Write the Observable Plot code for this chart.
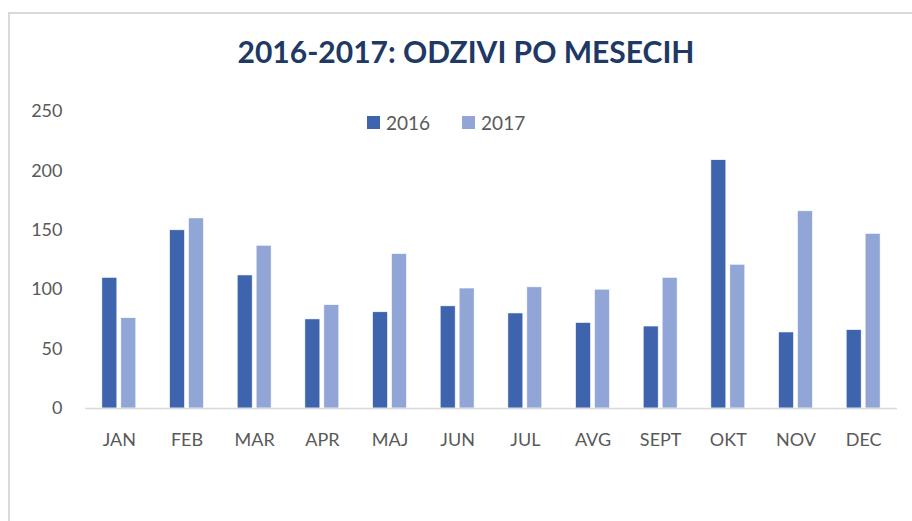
<!DOCTYPE html>
<html>
<head>
<meta charset="utf-8">
<script src="https://cdn.jsdelivr.net/npm/d3@7"></script>
<script src="https://cdn.jsdelivr.net/npm/@observablehq/plot@0.6"></script>
<style>
  html, body { margin: 0; padding: 0; background: #fff; }
  body { width: 912px; height: 521px; position: relative; overflow: hidden; font-family: Lato, "Open Sans", sans-serif; }
  #frame { position: absolute; left: 8px; top: 12px; right: -4px; bottom: -4px; border-left: 2px solid #d9d9d9; border-top: 2px solid #d9d9d9; z-index: 2; pointer-events: none; }
  #title { position: absolute; left: 20px; width: 892px; top: 36px; line-height: 30px; text-align: center; font-size: 30px; font-weight: 700; color: #203864; white-space: nowrap; }
  #chart { position: absolute; left: 0; top: 90px; }
  #legend { position: absolute; left: 367px; top: 110px; height: 24px; display: flex; align-items: center; font-size: 19px; color: #595959; z-index: 3; }
  .sw { display: inline-flex; align-items: center; margin-right: 32px; }
  .sw i { display: inline-block; width: 13px; height: 13px; margin-right: 6px; }
</style>
</head>
<body>
<div id="frame"></div>
<div id="title">2016-2017: ODZIVI PO MESECIH</div>
<div id="chart"></div>
<div id="legend"></div>
<script>
const months = ["JAN","FEB","MAR","APR","MAJ","JUN","JUL","AVG","SEPT","OKT","NOV","DEC"];
const years = ["2016","2017"];
const values2016 = [110,150,112,75,81,86,80,72,69,209,64,66];
const values2017 = [76,160,137,87,130,101,102,100,110,121,166,147];
const yTicks = [0,50,100,150,200,250];
const colors = ["#3D64AD","#91A6D6"];

const data = [];
months.forEach((m, i) => {
  data.push({month: m, year: years[0], value: values2016[i]});
  data.push({month: m, year: years[1], value: values2017[i]});
});

const chart = Plot.plot({
  width: 912,
  height: 431,
  marginLeft: 85,
  marginRight: 15,
  marginTop: 21,
  marginBottom: 113,
  style: {background: "none", fontFamily: "Lato, 'Open Sans', sans-serif", fontSize: "18px", color: "#595959", overflow: "visible"},
  fx: {domain: months, padding: 0, round: false, axis: "bottom", label: null, tickSize: 0, tickPadding: 25},
  x: {domain: years, axis: null, round: false, paddingInner: 0.21, paddingOuter: 0.89},
  y: {domain: [0, 250], ticks: yTicks, label: null, tickSize: 0, tickPadding: 23, grid: false},
  color: {domain: years, range: colors},
  marks: [
    Plot.barY(data, {fx: "month", x: "year", y: "value", fill: "year", stroke: "#ffffff", strokeWidth: 0.6}),
    Plot.ruleY([0], {stroke: "#d9d9d9", strokeWidth: 1.5})
  ]
});
document.getElementById("chart").appendChild(chart);

const leg = document.getElementById("legend");
const cs = chart.scale("color");
cs.domain.forEach((d, i) => {
  const s = document.createElement("span");
  s.className = "sw";
  const sq = document.createElement("i");
  sq.style.background = cs.range[i];
  s.appendChild(sq);
  s.appendChild(document.createTextNode(d));
  leg.appendChild(s);
});
</script>
</body>
</html>
